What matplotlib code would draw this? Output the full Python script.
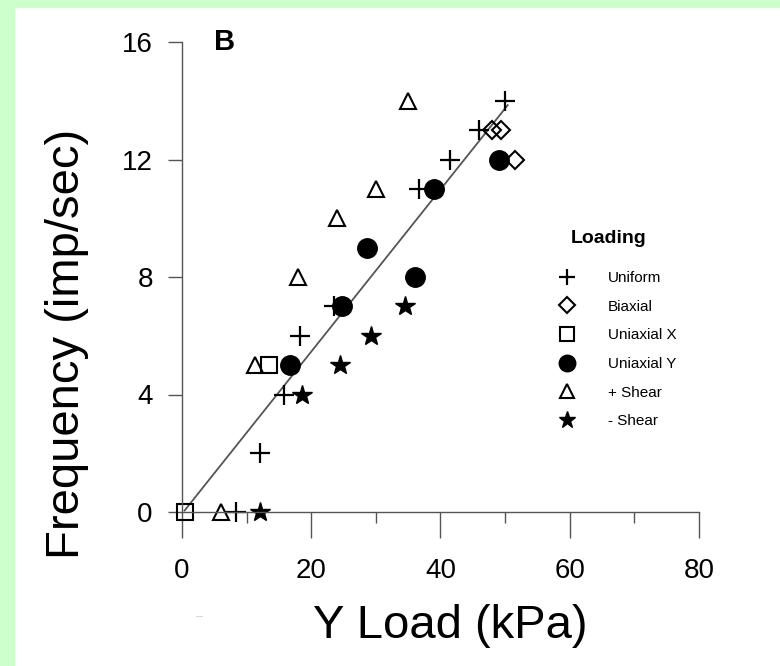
import matplotlib
matplotlib.use('Agg')
import matplotlib.pyplot as plt
from matplotlib.patches import Rectangle

plt.rcParams['font.family'] = ['Liberation Sans', 'DejaVu Sans']

# data (Y load kPa, frequency imp/sec)
uniform_x = [50, 46, 41.5, 36.7, 23.5, 18.2, 15.8, 12, 8.3]
uniform_y = [14, 13, 12, 11, 7, 6, 4, 2, 0]
biaxial_x = [48, 49.3, 51.5]
biaxial_y = [13, 13, 12]
uniax_x_x = [13.5, 0.4]
uniax_x_y = [5, 0]
uniax_y_x = [49, 39, 28.6, 36, 24.7, 16.7]
uniax_y_y = [12, 11, 9, 8, 7, 5]
pshear_x = [35, 30, 24, 18, 11.3, 6]
pshear_y = [14, 11, 10, 8, 5, 0]
nshear_x = [34.5, 29.3, 24.4, 18.5, 12]
nshear_y = [7, 6, 5, 4, 0]

fit_x = [0.4, 50.4]
fit_y = [0.05, 13.85]

labels = ['Uniform', 'Biaxial', 'Uniaxial X', 'Uniaxial Y', '+ Shear', '- Shear']

fig = plt.figure(figsize=(7.8, 6.66), dpi=100)
fig.patch.set_facecolor('white')
green = '#ccffcc'
fig.add_artist(Rectangle((0, 0), 14 / 780, 1, transform=fig.transFigure, color=green, zorder=-5))
fig.add_artist(Rectangle((0, 1 - 7 / 666), 1, 7 / 666, transform=fig.transFigure, color=green, zorder=-5))

ax = fig.add_axes([182 / 780, 154 / 666, 517 / 780, 470 / 666])

ax.plot(fit_x, fit_y, color='#555555', lw=1.3, zorder=2)

h = []
h += ax.plot(uniform_x, uniform_y, '+', ms=14, mew=1.6, color='black', clip_on=False)
h += ax.plot(biaxial_x, biaxial_y, 'D', ms=9, mfc='none', mec='black', mew=1.5, clip_on=False)
h += ax.plot(uniax_x_x, uniax_x_y, 's', ms=12, mfc='none', mec='black', mew=1.5, clip_on=False)
h += ax.plot(uniax_y_x, uniax_y_y, 'o', ms=14, color='black', clip_on=False)
h += ax.plot(pshear_x, pshear_y, '^', ms=12, mfc='none', mec='black', mew=1.5, clip_on=False)
h += ax.plot(nshear_x, nshear_y, '*', ms=15, color='black', clip_on=False)

ax.set_xlim(0, 80)
ax.set_ylim(0, 16)
ax.set_xticks([0, 20, 40, 60, 80])
ax.set_xticks([10, 30, 50, 70], minor=True)
ax.set_yticks([0, 4, 8, 12, 16])
for s in ['top', 'right']:
    ax.spines[s].set_visible(False)
for s in ['left', 'bottom']:
    ax.spines[s].set_color('#555555')
    ax.spines[s].set_linewidth(1.0)
ax.tick_params(axis='x', which='major', length=19, width=1.0, color='#555555', pad=14, labelsize=20)
ax.tick_params(axis='x', which='minor', length=8, width=1.0, color='#555555')
ax.tick_params(axis='y', which='major', length=10, width=1.0, color='#555555', pad=11, labelsize=20)
ax.patch.set_alpha(0)

ax.text(5, 16, 'B', fontsize=21, fontweight='bold', ha='left', va='center')

fig.text(67 / 780, (666 - 344) / 666, 'Frequency (imp/sec)', rotation=90,
         ha='center', va='center', fontsize=34)
fig.text(450 / 780, (666 - 638) / 666, 'Y Load (kPa)', ha='center', va='baseline', fontsize=34)
fig.text(200 / 780, (666 - 617) / 666, '–', color='#d0d0d0', fontsize=9, ha='center', va='center')

fig.text(609 / 780, (666 - 238) / 666, 'Loading', fontsize=14, fontweight='bold', ha='center', va='center')
ax.legend(h, labels, loc='upper left', bbox_to_anchor=(559 / 780, (666 - 271) / 666),
          bbox_transform=fig.transFigure, frameon=False, fontsize=11, borderpad=0,
          borderaxespad=0, handlelength=1.0, handletextpad=2.2, labelspacing=0.96,
          markerscale=0.85)

fig.savefig('out.png', dpi=100)
